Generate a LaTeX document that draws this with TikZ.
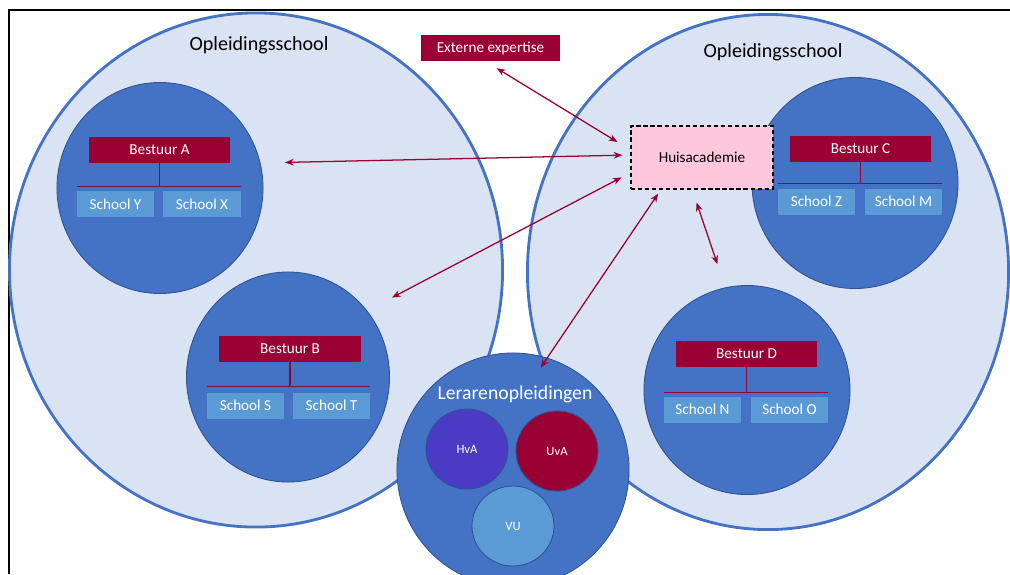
\documentclass[tikz,border=0pt]{standalone}
\usepackage{fontspec}
\setmainfont{Carlito}
\usetikzlibrary{shapes.geometric,arrows.meta,positioning}

\definecolor{lichtblauw}{HTML}{DAE3F3}
\definecolor{middenblauw}{HTML}{4472C4}
\definecolor{randblauw}{HTML}{2F528F}
\definecolor{schoolblauw}{HTML}{5B9BD5}
\definecolor{bordeaux}{HTML}{990033}
\definecolor{paars}{HTML}{4B3BC4}
\definecolor{roze}{HTML}{FFC7DB}

\tikzset{
	opleiding/.style={ellipse, draw=middenblauw, line width=2pt, fill=lichtblauw},
	cirkel/.style={ellipse, draw=randblauw, line width=0.6pt, fill=middenblauw},
	bestuur/.style={rectangle, fill=bordeaux, text=white, inner sep=0pt,
		minimum width=3.525cm, minimum height=0.65cm, font=\fontsize{10.8}{13}\selectfont},
	school/.style={rectangle, fill=schoolblauw, text=white, inner sep=0pt,
		minimum width=1.925cm, minimum height=0.65cm, font=\fontsize{10.8}{13}\selectfont},
	instelling/.style={ellipse, draw=randblauw, line width=0.6pt, text=white,
		minimum width=2.05cm, minimum height=2cm, font=\fontsize{9}{11}\selectfont},
	boom/.style={draw=bordeaux!85!violet, line width=1pt},
	pijl/.style={<->, draw=bordeaux, line width=0.9pt},
	>={Stealth[length=2.2mm,width=1.7mm]}
}

\begin{document}
\begin{tikzpicture}[x=0.025cm, y=-0.025cm]
				\clip (0,0) rectangle (1010,574);

				% Frame
				\draw[line width=1.5pt] (9,574) -- (9,10) -- (1010,10);

				% Big circles
				\node[opleiding, minimum width=12.325cm, minimum height=12.85cm] (opl1) at (256,270) {};
				\node[opleiding, minimum width=12.025cm, minimum height=12.875cm] (opl2) at (768,272) {};
				\node[font=\fontsize{14.3}{17}\selectfont] (titel1) at (259,45) {Opleidingsschool};
				\node[font=\fontsize{14.3}{17}\selectfont] (titel2) at (773,52) {Opleidingsschool};

				% Circles of the boards
				\node[cirkel, minimum width=5.15cm, minimum height=5.275cm] (cirkA) at (160,188) {};
				\node[cirkel, minimum width=5.075cm, minimum height=5.25cm] (cirkB) at (288,377) {};
				\node[cirkel, minimum width=5.15cm, minimum height=5.275cm] (cirkC) at (855,183) {};
				\node[cirkel, minimum width=5.15cm, minimum height=5.225cm] (cirkD) at (747,390) {};

				% Teacher training
				\node[cirkel, minimum width=5.8cm, minimum height=5.85cm] (leraren) at (513,470) {};
				\node[text=white, font=\fontsize{14}{17}\selectfont] (lerarentitel) at (515,394) {Lerarenopleidingen};
				\node[instelling, fill=paars] (hva) at (467,449) {HvA};
				\node[instelling, fill=bordeaux] (uva) at (557,451) {UvA};
				\node[instelling, fill=schoolblauw] (vu) at (513,526) {VU};

				% Boards and schools
				\node[bestuur] (bestA) at (159.5,150) {Bestuur A};
				\node[school] (schY) at (115.5,204) {School Y};
				\node[school] (schX) at (202,204) {School X};

				\node[bestuur] (bestB) at (290,349) {Bestuur B};
				\node[school] (schS) at (245.5,405.5) {School S};
				\node[school] (schT) at (331.5,405.5) {School T};

				\node[bestuur] (bestC) at (860.5,149) {Bestuur C};
				\node[school] (schZ) at (816.5,201.5) {School Z};
				\node[school] (schM) at (903.5,201.5) {School M};

				\node[bestuur] (bestD) at (746.5,354) {Bestuur D};
				\node[school] (schN) at (702.5,409.5) {School N};
				\node[school] (schO) at (789.5,409.5) {School O};

				% Tree lines
				\draw[boom] (bestA.south) -- ++(0,23) coordinate (takA);
				\draw[boom] (takA -| schY.west) -- (takA -| schX.east);
				\draw[boom] (bestB.south) -- ++(0,24) coordinate (takB);
				\draw[boom] (takB -| schS.west) -- (takB -| schT.east);
				\draw[boom] (bestC.south) -- ++(0,21) coordinate (takC);
				\draw[boom] (takC -| schZ.west) -- (takC -| schM.east);
				\draw[boom] (bestD.south) -- ++(0,25) coordinate (takD);
				\draw[boom] (takD -| schN.west) -- (takD -| schO.east);

				% Huisacademie and external expertise
				\node[rectangle, fill=roze, draw=black, densely dashed, line width=0.8pt,
					minimum width=3.55cm, minimum height=1.575cm, font=\fontsize{10.8}{13}\selectfont]
					(huis) at (702,157.5) {Huisacademie};
				\node[bestuur, minimum width=3.475cm] (ext) at (490.5,48) {Externe expertise};

				% Arrows
				\draw[pijl, shorten <=0.33cm, shorten >=0.38cm] (ext.249) -- (huis.174);
				\draw[pijl, shorten <=0.61cm, shorten >=0.2cm] (cirkA.14) -- (huis.178);
				\draw[pijl, shorten <=0.7cm, shorten >=0.25cm] (cirkB.40) -- (huis.192);
				\draw[pijl, shorten <=-0.3cm, shorten >=0.12cm] (leraren.73) -- (huis.218);
				\draw[pijl, shorten <=0.61cm, shorten >=0.34cm] (cirkD.102) -- (huis.253);
			\end{tikzpicture}
\end{document}
